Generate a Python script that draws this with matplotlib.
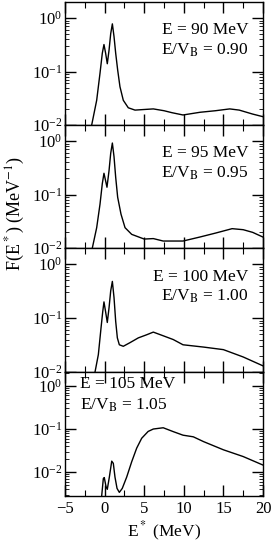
import numpy as np
import matplotlib.pyplot as plt
from matplotlib.ticker import MultipleLocator, LogLocator, NullFormatter

plt.rcParams['font.family'] = ['Liberation Serif', 'DejaVu Serif']
plt.rcParams['mathtext.fontset'] = 'stix'

# excitation energy E* (MeV) and F(E*) (MeV^-1)
e_90 = [-1.63, -1.0, -0.58, -0.29, -0.08, 0.13, 0.34, 0.56, 0.77, 0.98, 1.19, 1.40, 1.65, 1.94, 2.36, 2.99, 3.84, 5.0,
        6.15, 7.5, 8.5, 9.9, 12.05, 14.0, 15.8, 17.0, 18.7, 20.0]
f_90 = [0.01, 0.029, 0.093, 0.22, 0.32, 0.22, 0.14, 0.25, 0.51, 0.78, 0.45, 0.22, 0.107, 0.052, 0.029, 0.021, 0.019, 0.0195,
        0.020, 0.0185, 0.017, 0.0154, 0.0173, 0.0185, 0.020, 0.019, 0.016, 0.0143]

e_95 = [-1.55, -1.0, -0.58, -0.29, -0.08, 0.13, 0.30, 0.56, 0.77, 0.98, 1.19, 1.40, 1.65, 2.07, 2.58, 3.42, 5.0,
        6.15, 7.4, 9.9, 12.0, 14.0, 16.1, 17.5, 18.7, 20.0]
f_95 = [0.01, 0.024, 0.066, 0.16, 0.25, 0.18, 0.137, 0.28, 0.59, 0.92, 0.51, 0.21, 0.089, 0.043, 0.024, 0.018, 0.0147,
        0.015, 0.0135, 0.0135, 0.016, 0.019, 0.023, 0.022, 0.0196, 0.016]

e_100 = [-1.21, -0.79, -0.45, -0.24, -0.08, 0.13, 0.34, 0.56, 0.77, 0.98, 1.19, 1.40, 1.61, 1.86, 2.36, 3.2, 4.26, 5.3,
         6.15, 7.4, 8.67, 9.9, 12.5, 15.0, 17.5, 20.0]
f_100 = [0.01, 0.021, 0.066, 0.13, 0.20, 0.13, 0.083, 0.155, 0.32, 0.48, 0.24, 0.087, 0.043, 0.032, 0.030, 0.035, 0.043, 0.049,
         0.055, 0.047, 0.040, 0.032, 0.029, 0.026, 0.019, 0.013]

e_105 = [-0.37, -0.16, -0.04, 0.18, 0.34, 0.6, 0.9, 1.1, 1.31, 1.57, 1.86, 2.23, 2.79, 3.42, 4.05, 4.68, 5.5,
         6.15, 7.4, 8.67, 9.9, 11.2, 12.5, 15.0, 17.5, 20.0]
f_105 = [0.0028, 0.0071, 0.0075, 0.0046, 0.004, 0.0077, 0.018, 0.016, 0.0077, 0.0042, 0.0034, 0.0042, 0.0077, 0.0174, 0.036, 0.061, 0.088,
         0.10, 0.107, 0.087, 0.072, 0.066, 0.051, 0.033, 0.023, 0.0146]

energies = ['E = 90 MeV', 'E = 95 MeV', 'E = 100 MeV', 'E = 105 MeV']
ratios = ['0.90', '0.95', '1.00', '1.05']
series = [(e_90, f_90), (e_95, f_95), (e_100, f_100), (e_105, f_105)]

W, H = 273, 545
fig = plt.figure(figsize=(W / 100, H / 100), dpi=100)

left, right = 65, 263
tops = [2, 125, 248, 372]
bottoms = [125, 248, 372, 496]
ylims = [(0.01, 2.0), (0.01, 2.0), (0.01, 2.0), (0.0028, 2.1)]

for i in range(4):
    ax = fig.add_axes([left / W, 1 - bottoms[i] / H, (right - left) / W, (bottoms[i] - tops[i]) / H])
    x, y = series[i]
    ax.plot(x, y, color='black', lw=1.0)
    ax.set_yscale('log')
    ax.set_xlim(-5, 20)
    ax.set_ylim(*ylims[i])
    ax.xaxis.set_major_locator(MultipleLocator(5))
    ax.xaxis.set_minor_locator(MultipleLocator(2.5))
    ax.yaxis.set_major_locator(LogLocator(base=10, numticks=10))
    ax.yaxis.set_minor_locator(LogLocator(base=10, subs=np.arange(2, 10), numticks=10))
    ax.yaxis.set_minor_formatter(NullFormatter())
    ax.tick_params(which='both', direction='in', top=True, right=True, labelsize=12)
    ax.tick_params(which='major', length=8, width=1.0)
    ax.tick_params(which='minor', length=4, width=0.8)
    ax.tick_params(axis='y', which='minor', length=3, width=0.6)
    ax.tick_params(axis='y', pad=2)
    for s in ax.spines.values():
        s.set_linewidth(1.0)
    if i < 3:
        ax.tick_params(labelbottom=False)
        ax.text(0.925, 0.77, energies[i], transform=ax.transAxes, ha='right', va='center', fontsize=12.5)
        ax.text(0.925, 0.61, r'E/V$_\mathrm{B}$ = ' + ratios[i], transform=ax.transAxes, ha='right', va='center', fontsize=12.5)
    else:
        ax.text(0.075, 0.9, energies[i], transform=ax.transAxes, ha='left', va='center', fontsize=12.5)
        ax.text(0.075, 0.73, r'E/V$_\mathrm{B}$ = ' + ratios[i], transform=ax.transAxes, ha='left', va='center', fontsize=12.5)
        ax.set_xlabel(r'E$^*$ (MeV)', fontsize=12.5, labelpad=2)

fig.text(15 / W, 1 - 214 / H, r'F(E$^*$) (MeV$^{-1}$)', rotation=90, ha='center', va='center', fontsize=13)

fig.savefig('out.png', dpi=100)
